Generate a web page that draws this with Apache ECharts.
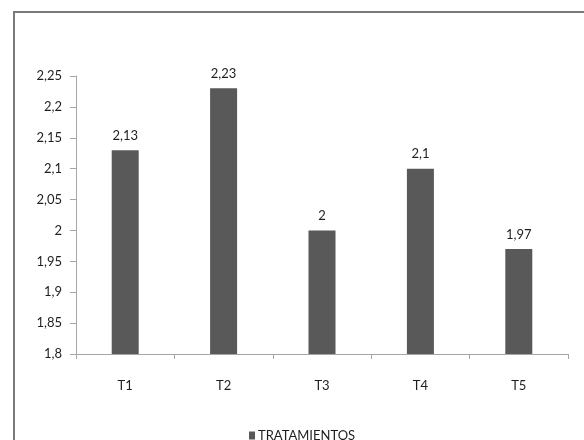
<!DOCTYPE html>
<html>
<head>
<meta charset="utf-8">
<script src="https://cdn.jsdelivr.net/npm/echarts@6/dist/echarts.min.js"></script>
<style>
  html, body { margin: 0; padding: 0; background: #fff; }
  #chart { width: 584px; height: 440px; }
</style>
</head>
<body>
<div id="chart"></div>
<script>
// Treatments and their mean values
const categories = ['T1', 'T2', 'T3', 'T4', 'T5'];
const values = [2.13, 2.23, 2, 2.1, 1.97];
const seriesName = 'TRATAMIENTOS';
const yMin = 1.8, yMax = 2.25, yStep = 0.05;

const FONT = 'Lato, "Liberation Sans Narrow", sans-serif';
const TEXT = '#1e1e1e';
const comma = v => String(Number(Number(v).toFixed(2))).replace('.', ',');

const chart = echarts.init(document.getElementById('chart'), null, { renderer: 'canvas' });
chart.setOption({
  animation: false,
  backgroundColor: '#ffffff',
  graphic: [{
    type: 'rect',
    shape: { x: 14, y: 12, width: 620, height: 500 },
    style: { fill: 'none', stroke: '#7a7a7a', lineWidth: 2 },
    silent: true
  }],
  grid: { left: 76, right: 16, top: 76, bottom: 86 },
  legend: {
    left: 244, top: 424,
    icon: 'rect', itemWidth: 6, itemHeight: 8, itemGap: 4,
    textStyle: { fontFamily: FONT, fontSize: 13, color: TEXT, padding: [0, 0, 0, -2] },
    data: [seriesName]
  },
  xAxis: {
    type: 'category',
    data: categories,
    boundaryGap: true,
    axisLine: { lineStyle: { color: '#a6a6a6', width: 1 } },
    axisTick: { show: true, length: 5, lineStyle: { color: '#a6a6a6' } },
    axisLabel: { fontFamily: FONT, fontSize: 13, color: TEXT, margin: 25 }
  },
  yAxis: {
    type: 'value',
    min: yMin, max: yMax, interval: yStep,
    splitLine: { show: false },
    axisLine: { show: true, lineStyle: { color: '#a6a6a6', width: 1 } },
    axisTick: { show: true, length: 6, lineStyle: { color: '#a6a6a6' } },
    axisLabel: { fontFamily: FONT, fontSize: 13, color: TEXT, margin: 14, formatter: comma }
  },
  series: [{
    name: seriesName,
    type: 'bar',
    data: values,
    barWidth: 27,
    itemStyle: { color: '#595959' },
    label: {
      show: true, position: 'top', distance: 8,
      fontFamily: FONT, fontSize: 13, color: TEXT,
      formatter: p => comma(p.value)
    }
  }]
});
</script>
</body>
</html>
